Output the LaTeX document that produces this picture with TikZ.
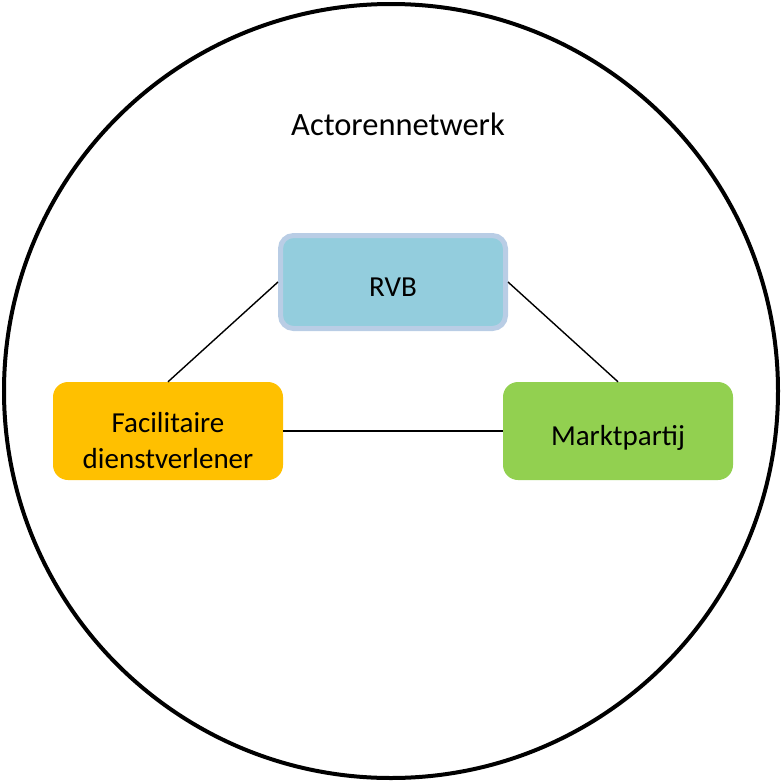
\documentclass[tikz,border=0pt]{standalone}
\usepackage{fontspec}
\setmainfont{Carlito}
\begin{document}
\begin{tikzpicture}[x=1pt,y=-1pt,
    actor/.style={rectangle,rounded corners=15pt,minimum width=230pt,minimum height=98pt,
      align=center,inner sep=0pt,font=\fontsize{29}{36}\selectfont}]
      \useasboundingbox (0,0) rectangle (782,782);
      \draw[line width=4pt] (391,391) circle (387);
      \draw
        (398,124) node[font=\fontsize{32.5}{38}\selectfont] (net){Actorennetwerk}
        (393,282) node[actor,fill={rgb,255:red,147;green,205;blue,221},draw={rgb,255:red,185;green,205;blue,229},
          line width=5pt,rounded corners=13pt,minimum width=225pt,minimum height=93pt,
          text height=28pt,text depth=0pt] (rvb){RVB}
        (168,431) node[actor,fill={rgb,255:red,255;green,192;blue,0}] (fac){\rule{0pt}{40pt}Facilitaire\\dienstverlener}
        (618,431) node[actor,fill={rgb,255:red,146;green,208;blue,80},
          text height=28pt,text depth=0pt] (markt){Marktpartij};
      \begin{scope}[-,line width=1.4pt]
        \draw (rvb.west) to (fac.north);
        \draw (rvb.east) to (markt.north);
        \draw (fac.east) to (markt.west);
      \end{scope}
    \end{tikzpicture}
\end{document}
